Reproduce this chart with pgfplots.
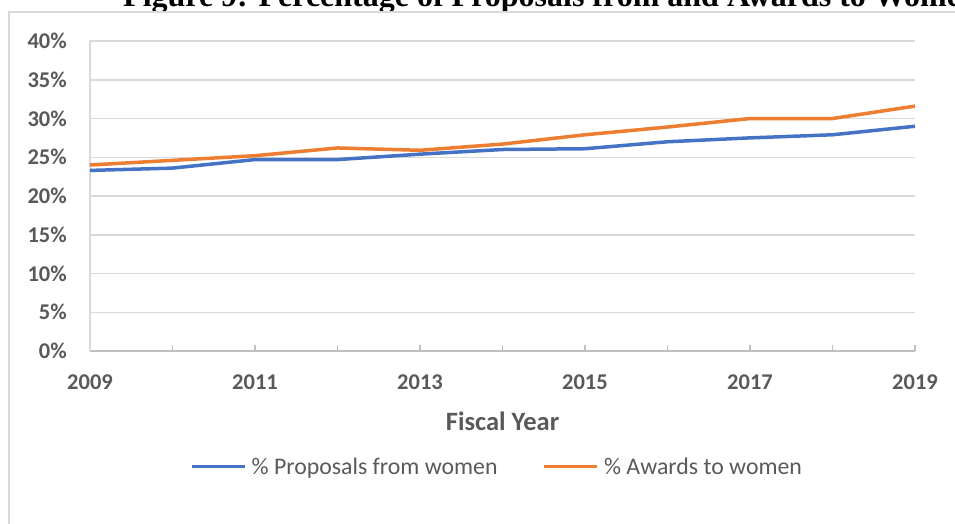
\documentclass[border=0pt]{standalone}
\usepackage{fontspec}
\setmainfont{Carlito}
\newfontfamily\titlefont{Liberation Serif}
\usepackage{pgfplots}
\pgfplotsset{compat=1.18}
\definecolor{xlblue}{HTML}{4472C4}
\definecolor{xlorange}{HTML}{ED7D31}
\definecolor{txtgray}{HTML}{595959}
\definecolor{gridgray}{HTML}{D9D9D9}
\definecolor{axgray}{HTML}{BFBFBF}
\begin{document}
\begin{tikzpicture}[x=1pt,y=1pt]
\node[anchor=base west, inner sep=0pt, font=\titlefont\fontsize{32}{36}\selectfont\bfseries] at (123,-6.5) {Figure 9: Percentage of Proposals from and Awards to Women};
\draw[gridgray, line width=1.5pt] (9,-530) -- (9,-12) -- (960,-12);
\begin{axis}[
  at={(90pt,-351pt)}, anchor=south west,
  scale only axis, width=825pt, height=310pt,
  xmin=2009, xmax=2019, ymin=0, ymax=40,
  axis x line*=bottom, axis y line*=left,
  x axis line style={axgray, line width=1.5pt, -},
  y axis line style={gridgray, line width=1.5pt, -},
  ytick={0,5,...,40},
  yticklabels={0\%,5\%,10\%,15\%,20\%,25\%,30\%,35\%,40\%},
  xtick={2009,2010,...,2019},
  xticklabels={2009,,2011,,2013,,2015,,2017,,2019},
  ymajorgrids, grid style={gridgray, line width=1.5pt},
  tick align=inside, major tick length=6pt,
  xtick style={axgray, line width=1.2pt},
  ytick style={draw=none},
  ticklabel style={font=\fontsize{22.5}{27}\selectfont\bfseries, text=txtgray},
  yticklabel style={anchor=east, inner sep=0pt, xshift=-23pt},
  xticklabel style={anchor=center, inner sep=0pt, yshift=-31pt},
  xlabel={Fiscal Year},
  xlabel style={at={(axis description cs:0.5,0)}, anchor=center, inner sep=0pt, yshift=-70.7pt, font=\fontsize{26.5}{30}\selectfont\bfseries, text=txtgray},
  legend columns=2,
  legend style={draw=none, fill=none, at={(axis description cs:0.1212,-0.3732)}, anchor=west, inner sep=0pt,
    font=\fontsize{23.8}{28}\selectfont, text=txtgray,
    nodes={inner sep=0pt},
    /tikz/every odd column/.append style={column sep=5pt},
    /tikz/every even column/.append style={column sep=45pt}},
  legend cell align=left,
  legend image code/.code={\draw[#1, line width=3.5pt] (0pt,0pt) -- (53pt,0pt);},
]
\addplot[xlblue, line width=3.5pt, line join=round] coordinates {
(2009,23.3) (2010,23.6) (2011,24.7) (2012,24.7) (2013,25.4) (2014,26.0)
(2015,26.1) (2016,27.0) (2017,27.5) (2018,27.9) (2019,29.0)};
\addlegendentry{\% Proposals from women}
\addplot[xlorange, line width=3.5pt, line join=round] coordinates {
(2009,24.0) (2010,24.6) (2011,25.2) (2012,26.2) (2013,25.9) (2014,26.7)
(2015,27.9) (2016,28.9) (2017,30.0) (2018,30.0) (2019,31.6)};
\addlegendentry{\% Awards to women}
\end{axis}
\pgfresetboundingbox
\useasboundingbox (0,0) rectangle (955,-523);
\end{tikzpicture}
\end{document}
